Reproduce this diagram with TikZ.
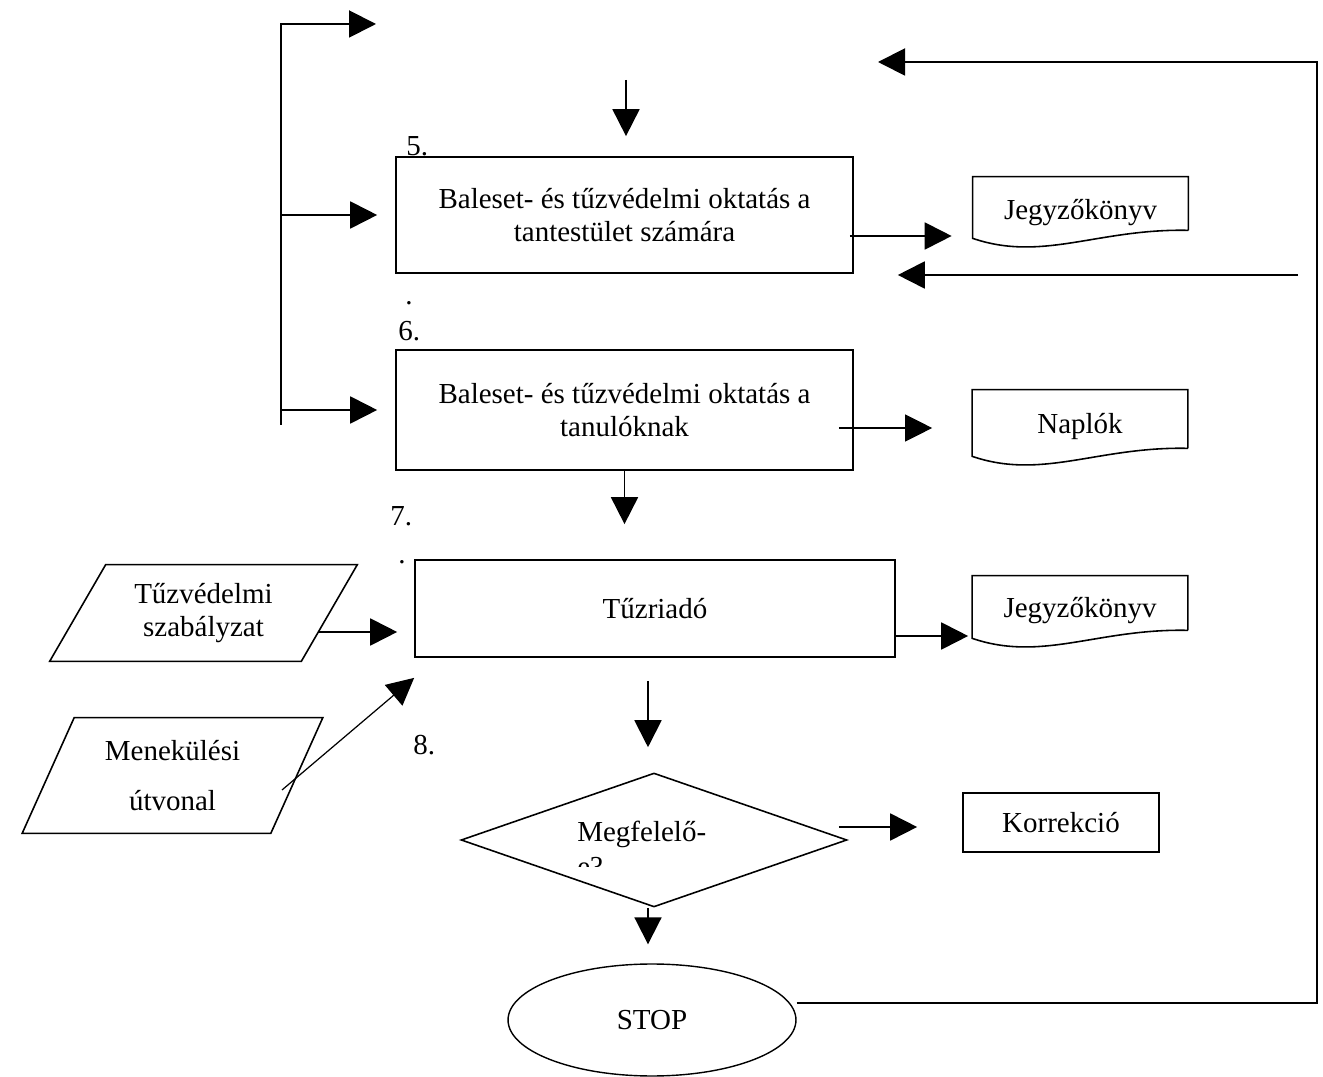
\documentclass[tikz,border=0pt]{standalone}
\usepackage{fontspec}
\setmainfont{Liberation Serif}
\usetikzlibrary{arrows.meta,shapes.geometric,calc}

\begin{document}
\begin{tikzpicture}[x=0.02cm,y=-0.02cm,font=\fontsize{16.5}{18.8}\selectfont,
  box/.style={draw,line width=1pt,align=center,inner sep=0pt},
  docnode/.style={minimum width=4.3cm,align=center,inner sep=0pt},
  slanted/.style={align=center,inner sep=0pt},
  numlabel/.style={anchor=base west,inner sep=0pt},
  arr/.style={-{Triangle[length=0.54cm,width=0.54cm]},line width=1.1pt},
  thinarr/.style={arr,line width=0.7pt}]
  \useasboundingbox (0,0) rectangle (1323,1077);

  \node[box,minimum width=9.14cm,minimum height=2.32cm] (oktatas1) at (624.5,215) {Baleset- és tűzvédelmi oktatás a\\tantestület számára};
  \node[box,minimum width=9.14cm,minimum height=2.4cm] (oktatas2) at (624.5,410) {Baleset- és tűzvédelmi oktatás a\\tanulóknak};
  \node[box,minimum width=9.6cm,minimum height=1.94cm] (riado) at (655,608.5) {Tűzriadó};
  \node[box,minimum width=3.92cm,minimum height=1.18cm] (korr) at (1061,822.5) {Korrekció};
  \node[draw,diamond,line width=0.9pt,minimum width=7.72cm,minimum height=2.68cm,inner sep=0pt] (dontes) at (654,840) {};
  \node[draw,ellipse,line width=0.8pt,minimum width=5.76cm,minimum height=2.24cm] (stop) at (652,1020) {STOP};

  \node[docnode,minimum height=1.22cm] (jkv1) at (1080.5,207.5) {\raisebox{-2.8pt}[\height][\depth]{Jegyzőkönyv}};
  \node[docnode,minimum height=1.32cm] (naplo) at (1080,423) {\raisebox{-2pt}[\height][\depth]{Naplók}};
  \node[docnode,minimum height=1.24cm] (jkv2) at (1080,607) {\raisebox{-2pt}[\height][\depth]{Jegyzőkönyv}};
  \foreach \d in {jkv1,naplo,jkv2}
    \draw[line width=0.9pt] ($(\d.south east)+(0,-8)$) -- (\d.north east) -- (\d.north west) -- (\d.south west)
      .. controls ($(\d.south west)+(70,24)$) and ($(\d.south east)+(-90,-10)$) .. ($(\d.south east)+(0,-8)$);

  \node[slanted,minimum width=5.02cm,minimum height=1.92cm] (tuzszab) at (203.5,613) {Tűzvédelmi\\szabályzat};
  \node[slanted,minimum width=4.96cm,minimum height=2.3cm] (menekul) at (172.5,775.5) {Menekülési\\[0.34cm]útvonal};
  \foreach \p/\s in {tuzszab/28,menekul/26}
    \draw[line width=0.9pt] ($(\p.south west)+(-\s,0)$) -- ($(\p.north west)+(\s,0)$)
      -- ($(\p.north east)+(\s,0)$) -- ($(\p.south east)+(-\s,0)$) -- cycle;

  \node[numlabel] (n5) at (406,156) {5.};
  \node[numlabel] (dot6) at (405,305) {.};
  \node[numlabel] (n6) at (398,341) {6.};
  \node[numlabel] (n7) at (390,526) {7.};
  \node[numlabel] (dot7) at (398,564) {.};
  \node[numlabel] (n8) at (413,755) {8.};
  \node[numlabel] (megf) at (577,842) {Megfelelő-};
  \begin{scope}
    \clip (560,800) rectangle (720,867);
    \node[numlabel] (megfe) at (577,877) {e?};
  \end{scope}

  % bal oldali elagazas
  \coordinate (brtop) at (281,24);
  \coordinate (brbot) at (281,425);
  \coordinate (brend) at (376,24);
  \draw[arr] (brbot) -- (brtop) -- (brend);
  \foreach \b in {oktatas1,oktatas2}
    \draw[arr,shorten >=0.36cm] (brtop |- \b.west) -- (\b.west);

  \coordinate (felul) at (626,80);
  \draw[arr,shorten >=0.4cm] (felul) -- (felul |- oktatas1.north);
  \draw[arr,shorten <=-0.08cm,shorten >=0.42cm] (oktatas1.east |- 0,236) -- (jkv1.west |- 0,236);
  \coordinate (visszaB) at (1298,275);
  \draw[arr,shorten >=0.88cm] (visszaB) -- (visszaB -| oktatas1.east);
  \draw[thinarr,shorten <=-0.3cm,shorten >=0.8cm] (oktatas2.east |- 0,428) -- (naplo.west |- 0,428);
  \draw[arr,shorten >=0.7cm] (oktatas2.south) -- (oktatas2.south |- riado.north);
  \draw[arr,shorten <=-0.22cm,shorten >=0.34cm] (tuzszab.east |- 0,632) -- (riado.west |- 0,632);
  \draw[arr,shorten >=0.08cm] (riado.east |- 0,636) -- (jkv2.west |- 0,636);
  \draw[arr,shorten <=0.46cm,shorten >=0.5cm] (riado.south -| 648,0) -- (dontes.north -| 648,0);
  \coordinate (menekulki) at (282,790);
  \draw[thinarr] (menekulki) -- ([shift={(0,20)}]riado.south west);
  \draw[arr,shorten <=-0.18cm,shorten >=0.9cm] (dontes.east |- 0,827) -- (korr.west |- 0,827);
  \draw[arr,shorten >=0.38cm] (dontes.south -| 648,0) -- (stop.north -| 648,0);

  % visszacsatolas
  \coordinate (jobbfent) at (1317,62);
  \coordinate (visszaA) at (878,62);
  \draw[arr] (stop.east |- 0,1003) -| (jobbfent) -- (visszaA);
\end{tikzpicture}
\end{document}
